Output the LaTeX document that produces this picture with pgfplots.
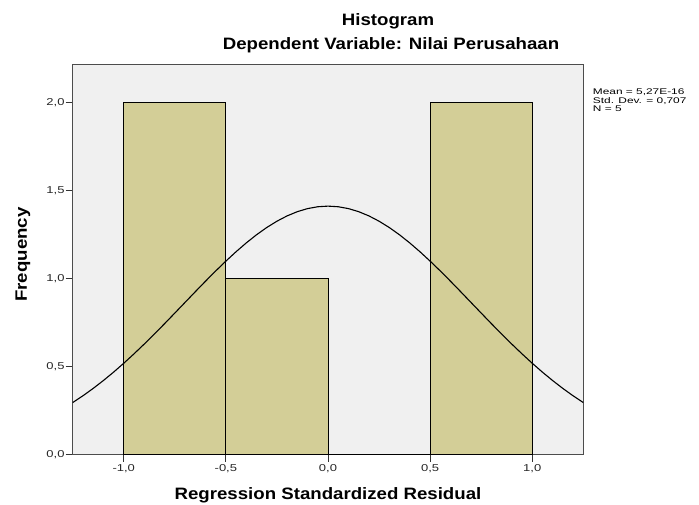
\documentclass[border=0pt]{standalone}
\usepackage{fontspec}
\usepackage{pgfplots}
\pgfplotsset{compat=1.18}
\setmainfont{Liberation Sans}
\newfontfamily\labfont[FakeStretch=1.13]{Liberation Sans}
\newfontfamily\tickfont[FakeStretch=1.3]{Liberation Sans}
\newfontfamily\statfont[FakeStretch=1.45]{Liberation Sans}
\definecolor{bgc}{RGB}{240,240,240}
\definecolor{barc}{RGB}{211,206,151}
\begin{document}
\begin{tikzpicture}[x=1pt,y=1pt]
\path[use as bounding box] (0,0) rectangle (699,504);
\begin{axis}[
  at={(72.7pt,49.3pt)}, anchor=south west,
  scale only axis, width=510.6pt, height=390.7pt,
  xmin=-1.25, xmax=1.25, ymin=0, ymax=2.217,
  axis background/.style={fill=bgc},
  axis line style={black!70, line width=0.8pt},
  xtick={-1,-0.5,0,0.5,1},
  ytick={0,0.5,1,1.5,2},
  tick pos=left, tick align=outside,
  major tick length=7pt,
  tick style={black!80, line width=0.8pt},
  xticklabel style={font=\tickfont\fontsize{10}{10}\selectfont, text=black!85, inner sep=3pt},
  yticklabel style={font=\tickfont\fontsize{10}{10}\selectfont, text=black!85, inner sep=1pt},
  /pgf/number format/use comma,
  /pgf/number format/fixed,
  /pgf/number format/fixed zerofill,
  /pgf/number format/precision=1,
  /pgf/number format/assume math mode=true,
  clip=true,
]
\addplot[ybar interval, fill=barc, draw=black, line width=0.8pt] coordinates {(-1,2) (-0.5,1) (0,0) (0.5,2) (1,2)};
\addplot[black, line width=1.1pt] coordinates {
(-1.25,0.2957) (-1.2,0.3342) (-1.15,0.3759) (-1.1,0.4206) (-1.05,0.4683)
(-1.0,0.5189) (-0.95,0.5721) (-0.9,0.6275) (-0.85,0.6849) (-0.8,0.7437)
(-0.75,0.8037) (-0.7,0.8641) (-0.65,0.9245) (-0.6,0.9841) (-0.55,1.0423)
(-0.5,1.0985) (-0.45,1.1519) (-0.4,1.2019) (-0.35,1.2479) (-0.3,1.2891)
(-0.25,1.3250) (-0.2,1.3552) (-0.15,1.3791) (-0.1,1.3965) (-0.05,1.4070)
(0,1.4105)
(0.05,1.4070) (0.1,1.3965) (0.15,1.3791) (0.2,1.3552) (0.25,1.3250)
(0.3,1.2891) (0.35,1.2479) (0.4,1.2019) (0.45,1.1519) (0.5,1.0985)
(0.55,1.0423) (0.6,0.9841) (0.65,0.9245) (0.7,0.8641) (0.75,0.8037)
(0.8,0.7437) (0.85,0.6849) (0.9,0.6275) (0.95,0.5721) (1.0,0.5189)
(1.05,0.4683) (1.1,0.4206) (1.15,0.3759) (1.2,0.3342) (1.25,0.2957)
};
\end{axis}
\node[anchor=base, inner sep=0pt, font=\labfont\bfseries\fontsize{16.5}{18}\selectfont] at (388,478.3) {Histogram};
\node[anchor=base, inner sep=0pt, font=\labfont\bfseries\fontsize{16.5}{18}\selectfont] at (391,454) {Dependent Variable: Nilai Perusahaan};
\node[anchor=base, inner sep=0pt, font=\labfont\bfseries\fontsize{16.5}{18}\selectfont] at (328,4.7) {Regression Standardized Residual};
\node[anchor=base, rotate=90, inner sep=0pt, font=\labfont\bfseries\fontsize{16.5}{18}\selectfont] at (27,249.5) {Frequency};
\node[anchor=base west, inner sep=0pt, font=\statfont\fontsize{8.2}{8.2}\selectfont] at (592.7,409) {Mean = 5,27E-16};
\node[anchor=base west, inner sep=0pt, font=\statfont\fontsize{8.2}{8.2}\selectfont] at (592.7,400.6) {Std. Dev. = 0,707};
\node[anchor=base west, inner sep=0pt, font=\statfont\fontsize{8.2}{8.2}\selectfont] at (592.7,392.2) {N = 5};
\end{tikzpicture}
\end{document}
